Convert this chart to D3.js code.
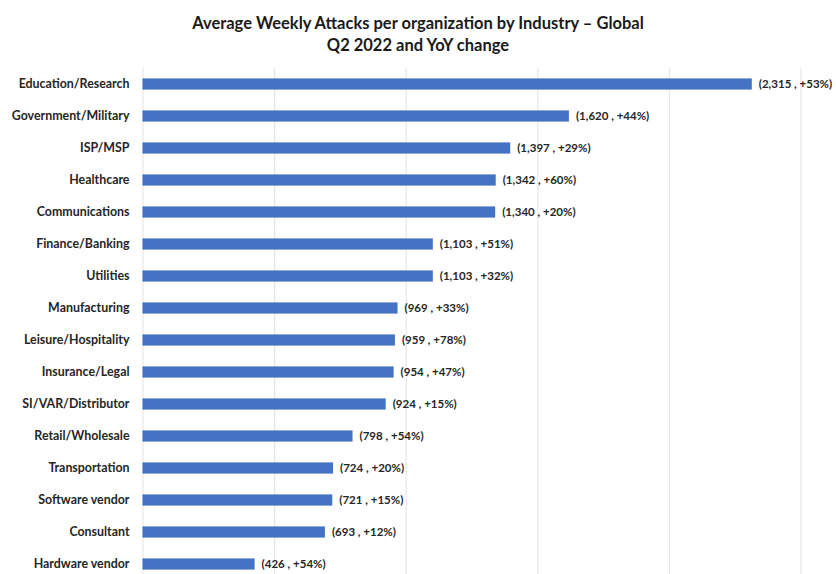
<!DOCTYPE html>
<html>
<head>
<meta charset="utf-8">
<script src="https://cdn.jsdelivr.net/npm/d3@7"></script>
<style>
  body { margin: 0; background: #fff; }
  svg { font-family: Lato, "Open Sans", sans-serif; }
</style>
</head>
<body>
<svg width="836" height="574"></svg>
<script>
// industries, top to bottom
const industries = ['Education/Research', 'Government/Military', 'ISP/MSP', 'Healthcare', 'Communications',
  'Finance/Banking', 'Utilities', 'Manufacturing', 'Leisure/Hospitality', 'Insurance/Legal',
  'SI/VAR/Distributor', 'Retail/Wholesale', 'Transportation', 'Software vendor', 'Consultant', 'Hardware vendor']
const attacks = [2315, 1620, 1397, 1342, 1340, 1103, 1103, 969, 959, 954, 924, 798, 724, 721, 693, 426]
const yoy = [53, 44, 29, 60, 20, 51, 32, 33, 78, 47, 15, 54, 20, 15, 12, 54]
const xTicks = [0, 500, 1000, 1500, 2000, 2500]
const titleLines = ['Average Weekly Attacks per organization by Industry \u2013 Global', 'Q2 2022 and YoY change']

const svg = d3.select('svg')
const margin = {top: 68, left: 142.5, right: 35.5}
const width = 836 - margin.left - margin.right

const x = d3.scaleLinear().domain([0, 2500]).range([0, width])
const y = d3.scaleBand().domain(industries).range([0, industries.length * 32]).paddingInner(0.65).paddingOuter(0.325)

const g = svg.append('g').attr('transform', 'translate(' + margin.left + ',' + margin.top + ')')

// vertical gridlines
g.append('g')
  .call(d3.axisBottom(x).tickValues(xTicks).tickSize(y.range()[1]).tickFormat(''))
  .call(a => a.select('.domain').remove())
  .call(a => a.selectAll('line').attr('stroke', '#e3e3e3').attr('stroke-width', 1))

// bars
g.selectAll('.bar')
  .data(industries)
  .enter()
  .append('rect')
    .attr('class', 'bar')
    .attr('x', 0)
    .attr('y', d => y(d))
    .attr('width', (d, i) => x(attacks[i]))
    .attr('height', y.bandwidth())
    .attr('fill', '#4472c4')

// value labels
g.selectAll('.lbl')
  .data(industries)
  .enter()
  .append('text')
    .attr('class', 'lbl')
    .attr('x', (d, i) => x(attacks[i]) + 7)
    .attr('y', d => y(d) + y.bandwidth() / 2)
    .attr('dy', '0.35em')
    .attr('font-size', 11.5)
    .attr('font-weight', 'bold')
    .attr('fill', '#262626')
    .text((d, i) => '(' + d3.format(',')(attacks[i]) + ' , +' + yoy[i] + '%)')

// category labels
g.append('g')
  .call(d3.axisLeft(y).tickSize(0).tickPadding(13))
  .call(a => a.select('.domain').remove())
  .call(a => a.selectAll('text').attr('font-size', 12.4).attr('font-weight', 'bold').attr('fill', '#262626').attr('font-family', 'Lato, sans-serif'))

// title
svg.selectAll('.title')
  .data(titleLines)
  .enter()
  .append('text')
    .attr('class', 'title')
    .attr('x', 418)
    .attr('y', (d, i) => 29 + i * 22)
    .attr('text-anchor', 'middle')
    .attr('font-size', 16.5)
    .attr('font-weight', 'bold')
    .attr('fill', '#1a1a1a')
    .text(d => d)
</script>
</body>
</html>
